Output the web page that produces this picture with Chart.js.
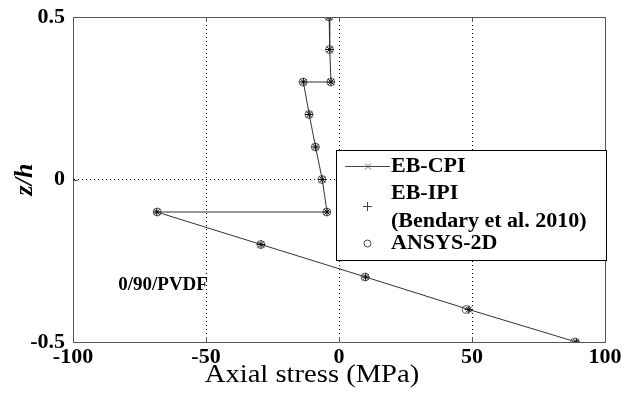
<!DOCTYPE html>
<html>
<head>
<meta charset="utf-8">
<script src="https://cdn.jsdelivr.net/npm/chart.js@4.4.1/dist/chart.umd.min.js"></script>
<style>
  html, body { margin: 0; padding: 0; background: #fff; }
</style>
</head>
<body>
<canvas id="chart" width="625" height="398"></canvas>
<script>
// z/h positions through the thickness (the steps at 0.3 and -0.1 are layer interfaces)
const zh = [0.5, 0.4, 0.3, 0.3, 0.2, 0.1, 0, -0.1, -0.1, -0.2, -0.3, -0.4, -0.5];
// axial stress (MPa)
const cpiStress   = [-3.7, -3.5, -3.0, -13.4, -11.2, -8.8, -6.3, -4.5, -68.5, -29.3, 10.0, 48.8, 89.2];
const ipiStress   = [-3.7, -3.5, -3.0, -13.4, -11.2, -8.8, -6.3, -4.5, -68.5, -29.3, 10.0, 48.8, 89.2];
const ansysStress = [-3.8, -3.6, -3.1, -13.5, -11.3, -8.9, -6.4, -4.6, -68.3, -29.4, 9.8, 47.8, 88.6];

const xTicks = [-100, -50, 0, 50, 100];
const yTicks = [-0.5, 0, 0.5];
const seriesNames = ['EB-CPI', ['EB-IPI', '(Bendary et al. 2010)'], 'ANSYS-2D'];
const xTitle = 'Axial stress (MPa)';
const yTitle = 'z/h';
const noteText = '0/90/PVDF';

const serif = '"Liberation Serif", "Times New Roman", serif';
const frameColor = '#555';

function pts(xs) {
    return xs.map((x, i) => ({ x: x, y: zh[i] }));
}

// Rahmen, Ticks nach innen, Achsentitel, Notiz und Legende
const matlabLook = {
    id: 'matlabLook',
    afterDraw(chart) {
        const ctx = chart.ctx;
        const a = chart.chartArea;
        const sx = chart.scales.x, sy = chart.scales.y;
        ctx.save();
        ctx.strokeStyle = frameColor;
        ctx.lineWidth = 1;
        ctx.beginPath();
        ctx.moveTo(Math.round(a.left) + 0.5, Math.round(a.top) + 0.5);
        ctx.lineTo(Math.round(a.right) + 0.5, Math.round(a.top) + 0.5);
        ctx.lineTo(Math.round(a.right) + 0.5, Math.round(a.bottom) + 0.5);
        ctx.stroke();
        // kleine Ticks nach innen
        ctx.beginPath();
        xTicks.forEach(v => {
            const px = Math.round(sx.getPixelForValue(v)) + 0.5;
            ctx.moveTo(px, a.bottom); ctx.lineTo(px, a.bottom - 5);
            ctx.moveTo(px, a.top); ctx.lineTo(px, a.top + 5);
        });
        yTicks.forEach(v => {
            const py = Math.round(sy.getPixelForValue(v)) + 0.5;
            ctx.moveTo(a.left, py); ctx.lineTo(a.left + 5, py);
            ctx.moveTo(a.right, py); ctx.lineTo(a.right - 5, py);
        });
        ctx.stroke();

        // x-Achsentitel (leicht in die Breite gezogen wie im Original)
        ctx.fillStyle = '#000';
        ctx.font = '26px ' + serif;
        ctx.textAlign = 'center';
        ctx.textBaseline = 'middle';
        ctx.save();
        ctx.translate(312, 375);
        ctx.scale(1.1, 1);
        ctx.fillText(xTitle, 0, 0);
        ctx.restore();

        // Notiz
        ctx.font = 'bold 19px ' + serif;
        ctx.textAlign = 'left';
        ctx.fillText(noteText, sx.getPixelForValue(-83), sy.getPixelForValue(-0.325));

        // Legende
        const bx = 336.5, by = 150.5, bw = 270, bh = 110;
        ctx.fillStyle = '#fff';
        ctx.fillRect(bx, by, bw, bh);
        ctx.strokeStyle = '#000';
        ctx.strokeRect(bx, by, bw, bh);

        ctx.font = 'bold 22px ' + serif;
        ctx.fillStyle = '#000';
        ctx.textAlign = 'left';
        ctx.textBaseline = 'middle';
        const tx = 391;
        // EB-CPI
        ctx.strokeStyle = '#444';
        ctx.beginPath(); ctx.moveTo(345, 166.5); ctx.lineTo(390, 166.5); ctx.stroke();
        ctx.strokeStyle = '#666';
        ctx.beginPath();
        ctx.moveTo(365, 163.5); ctx.lineTo(371, 169.5);
        ctx.moveTo(371, 163.5); ctx.lineTo(365, 169.5);
        ctx.stroke();
        ctx.fillText(seriesNames[0], tx, 166);
        // EB-IPI
        ctx.strokeStyle = '#444';
        ctx.beginPath();
        ctx.moveTo(363, 206.5); ctx.lineTo(372, 206.5);
        ctx.moveTo(367.5, 202); ctx.lineTo(367.5, 211);
        ctx.stroke();
        ctx.fillText(seriesNames[1][0], tx, 193);
        ctx.fillText(seriesNames[1][1], tx, 221);
        // ANSYS
        ctx.beginPath(); ctx.arc(367.5, 243.5, 3.5, 0, Math.PI * 2); ctx.stroke();
        ctx.fillText(seriesNames[2], tx, 243);
        ctx.restore();
    }
};

const tickFont = { family: serif, size: 22, weight: 'bold' };

new Chart(document.getElementById('chart'), {
    type: 'scatter',
    data: {
        datasets: [
            {
                label: 'EB-CPI',
                data: pts(cpiStress),
                showLine: true,
                borderColor: '#333',
                borderWidth: 1,
                pointStyle: 'crossRot',
                pointRadius: 4,
                pointBorderColor: '#000',
                pointBorderWidth: 1
            },
            {
                label: 'EB-IPI (Bendary et al. 2010)',
                data: pts(ipiStress),
                showLine: false,
                pointStyle: 'cross',
                pointRadius: 4,
                pointBorderColor: '#000',
                pointBorderWidth: 1
            },
            {
                label: 'ANSYS-2D',
                data: pts(ansysStress),
                showLine: false,
                pointStyle: 'circle',
                pointRadius: 4,
                pointBorderColor: '#666',
                pointBackgroundColor: 'rgba(0,0,0,0)',
                pointBorderWidth: 1
            }
        ]
    },
    options: {
        responsive: false,
        animation: false,
        devicePixelRatio: 1,
        events: [],
        layout: { padding: { top: 17, right: 20, left: 0, bottom: 0 } },
        plugins: { legend: { display: false }, tooltip: { enabled: false } },
        scales: {
            x: {
                min: -100, max: 100,
                afterBuildTicks: s => { s.ticks = xTicks.map(v => ({ value: v })); },
                afterFit: s => { s.height = 56; s.paddingLeft = 0; s.paddingRight = 0; },
                grid: { color: '#000', lineWidth: 1, drawTicks: false },
                border: { display: true, color: frameColor, width: 1, dash: [1, 3] },
                ticks: { color: '#000', font: tickFont, padding: 2, maxRotation: 0, autoSkip: false }
            },
            y: {
                min: -0.5, max: 0.5,
                afterBuildTicks: s => { s.ticks = yTicks.map(v => ({ value: v })); },
                afterFit: s => { s.width = 73; s.paddingTop = 0; s.paddingBottom = 0; },
                grid: { color: '#000', lineWidth: 1, drawTicks: false },
                border: { display: true, color: frameColor, width: 1, dash: [1, 3] },
                ticks: { color: '#000', font: tickFont, padding: 8 },
                title: {
                    display: true,
                    text: yTitle,
                    color: '#000',
                    font: { family: serif, size: 26, weight: 'bold', style: 'italic' },
                    padding: { top: 10, bottom: 0 }
                }
            }
        }
    },
    plugins: [matlabLook]
});
</script>
</body>
</html>
